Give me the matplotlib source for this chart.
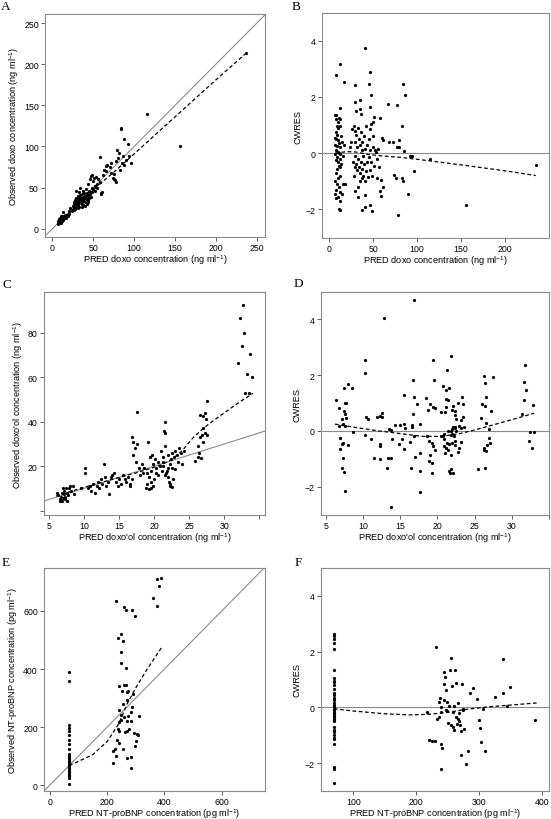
import matplotlib
matplotlib.use("Agg")
import matplotlib.pyplot as plt
import numpy as np

plt.rcParams['font.family'] = ['Liberation Sans', 'DejaVu Sans']
plt.rcParams['mathtext.default'] = 'regular'

# ---------------- data ----------------
# Panel A: observed vs PRED doxo
pred_a = [6.5, 7, 7.5, 8, 8, 8.5, 9, 9, 9.5, 10, 10, 10.5, 11, 11, 11.5, 12, 12, 12, 12.5, 13, 13, 14, 14, 15, 15, 16, 17, 18, 19, 20, 10, 11, 9, 8,
          24, 25, 26, 27, 27, 28, 28, 29, 29, 30, 30, 31, 31, 32, 32, 33, 33, 34, 34, 35, 35, 36, 36, 37, 37, 38, 38, 39, 39, 40, 40, 41, 41, 42, 42,
          43, 43, 44, 44, 45, 45, 46, 46, 47, 47, 48, 48, 49, 50, 50, 51, 52, 52, 53, 54, 55, 56, 58, 59, 60, 61, 58,
          33, 36, 38, 40, 42, 44, 31, 28, 26, 29, 34, 22, 20,
          62, 63, 65, 66, 67, 70, 72, 72, 74, 75, 75, 76, 78, 78, 79, 80, 81, 83, 84, 84, 85, 86, 87, 88, 90, 92, 94, 96, 116, 156, 236.5]
obs_a = [7, 9, 6, 8, 10, 7, 9, 11, 8, 10, 12, 9, 11, 14, 13, 10, 12, 16, 20, 14, 11, 13, 15, 14, 17, 15, 13, 17, 16, 18, 16, 7, 13, 12,
         22, 28, 30, 25, 33, 35, 30, 27, 38, 32, 35, 29, 40, 34, 37, 31, 45, 36, 41, 33, 38, 30, 42, 35, 46, 39, 34, 43, 37, 40, 32, 36, 48, 38, 44,
         41, 35, 40, 55, 37, 46, 42, 60, 39, 64, 50, 45, 65, 48, 58, 62, 52, 46, 63, 55, 49, 60, 57, 42, 44, 45, 87,
         27, 26, 29, 28, 30, 33, 25, 24, 23, 46.5, 49, 25, 22,
         65, 72, 76, 70, 77, 75, 80, 68, 62, 67, 60, 59, 57, 82, 95.5, 86, 92, 72, 121, 123, 80, 88, 109, 78, 84, 103, 88, 80, 139.6, 100, 213]
smooth_a_x = [7, 20, 40, 60, 80, 100, 150, 200, 236.5]
smooth_a_y = [7, 18.5, 38, 56, 73, 91, 136, 181, 213]

# Panel B: CWRES vs PRED doxo
pred_b = [41.3, 12.1, 8.3, 16.7, 46.2, 29.2, 45.8, 48, 83.7, 86.7, 29.9, 35.6, 47, 31, 34.8, 36.4, 66.7, 77.3, 12.9,
          50.8, 58.3, 49.6, 8.3, 11, 10.2, 82.9, 79.2, 72.7, 67.8, 60.6, 61.4, 77.3, 80, 84.8, 92.4, 94.3, 96.2,
          73.5, 76.1, 83, 83.7, 89.8, 59.5, 61.4, 58.3, 59.5, 41.3, 37.5, 48.9, 47, 78.4, 11, 12.9, 32.6, 41.3, 17.8,
          114.8, 155.3, 234.8,
          7, 8, 9, 10, 8, 9, 7, 8, 10, 11, 7, 9, 12, 8, 10, 11, 7, 9, 12, 8, 10, 11, 13, 9, 8, 12, 10, 7, 9, 11, 8, 13, 7,
          10, 8, 12, 15, 14, 15, 16, 13, 12, 14, 17, 16, 13,
          26, 28, 29, 30, 30, 31, 31, 32, 32, 33, 33, 34, 34, 35, 35, 36, 36, 37, 37, 38, 38, 39, 39, 40, 40, 41, 41, 42,
          42, 43, 43, 44, 45, 45, 46, 46, 47, 48, 48, 49, 50, 50, 51, 52, 53, 54, 55, 56, 57, 28, 29, 30, 33, 35, 27, 25, 24]
cwres_b = [3.73, 3.15, 2.78, 2.54, 2.88, 2.43, 2.44, 2.07, 2.46, 2.07, 1.81, 1.87, 1.63, 1.51, 1.57, 1.40, 1.74, 1.72, 1.60,
           1.27, 1.24, 1.12, 1.36, 1.24, 1.10, 0.95, 0.47, 0.40, 0.40, 0.52, 0.45, 0.2, 0.2, 0.08, -0.1, -0.12, -0.62,
           -0.78, -0.9, -0.87, -1.0, -1.47, -0.96, -1.2, -1.36, -1.54, -1.9, -2.02, -2.07, -1.85, -2.2, -2.0, -2.02, -1.56, -1.5, -1.1,
           -0.2, -1.86, -0.44,
           1.35, 1.2, 0.95, 0.9, 0.75, 0.65, 0.55, 0.5, 0.45, 0.35, 0.3, 0.25, 0.2, 0.1, 0.05, 0.0, -0.05, -0.15, -0.2, -0.25,
           -0.3, -0.45, -0.5, -0.55, -0.7, -0.8, -0.9, -1.0, -1.1, -1.2, -1.3, -1.4, -1.45,
           -1.55, -1.6, -1.7, -1.45, -0.4, 0.4, -0.1, 1.2, 0.95, 0.6, 0.3, -1.1, -0.05,
           0.85, 0.95, 0.4, 0.8, -0.1, 0.65, -0.4, 0.2, -0.6, 0.9, -0.2, 0.5, -0.5, 0.3, -0.7, 0.75, -0.3, 0.1, -0.9, 0.4,
           -0.55, -0.1, -0.8, 0.6, -0.4, 0.15, -1.0, 0.95, -0.65, 0.3, -0.3, -0.85, 0.5, -0.15, 0.85, -0.6, 0.1, -0.3,
           1.05, -0.8, 0.6, 0.2, -0.45, 0.1, 0.05, -0.9, -0.2, 0.15, -0.5, -0.8, -0.5, -1.35, -1.2, -1.0, -0.3, 0.4, 0.2]
smooth_b_x = [7, 20, 30, 45, 60, 80, 100, 150, 200, 235]
smooth_b_y = [0.0, 0.05, 0.04, -0.05, -0.1, -0.15, -0.22, -0.42, -0.63, -0.8]

# Panel C: observed vs PRED doxo'ol
pred_c = [6.3, 6.5, 6.7, 6.8, 6.9, 7.0, 7.1, 7.2, 7.3, 7.4, 7.5, 7.6, 7.7, 7.8, 8.0, 8.2, 8.4, 8.6, 6.6, 7.0, 7.3, 6.2,
          9.5, 10.1, 10.2, 10.5, 10.8, 11.0, 11.3, 11.5, 11.8, 12.0, 12.2, 12.4, 12.6, 12.8, 13.0, 13.2, 13.4, 13.6, 13.8,
          14.0, 14.2, 14.5, 14.8, 15.0, 15.3, 15.6, 16.0, 16.3, 16.5, 16.8, 16.6, 15.8,
          16.8, 17.0, 17.0, 17.2, 17.4, 17.5, 17.6, 17.8, 18.0, 18.2, 18.4, 18.6, 18.8, 19.0, 19.1, 19.2, 19.3, 19.4, 19.5,
          19.6, 19.7, 19.8, 19.9, 20.0, 20.1, 20.2, 20.3, 20.5, 20.6, 20.8, 19.5, 19.0,
          21.0, 21.1, 21.2, 21.3, 21.4, 21.5, 21.5, 21.6, 21.6, 21.7, 21.8, 21.9, 22.0, 22.0, 22.1, 22.2, 22.2, 22.3, 22.4,
          22.5, 22.6, 22.7, 22.8, 23.0, 23.2, 23.4, 23.6, 23.8, 24.0, 24.2, 21.3, 22.5, 23.0,
          25.8, 26.2, 26.4, 26.5, 26.6, 26.8, 27.0, 27.0, 27.2, 27.4, 27.5, 27.6, 26.9, 27.3, 26.3, 26.7,
          32.0, 32.3, 32.5, 32.7, 32.8, 33.0, 33.2, 33.5, 33.7, 33.9]
obs_c = [7, 5, 6, 8, 4.5, 5.5, 7.5, 9, 6, 10, 8, 4.5, 7, 10, 11, 9, 11, 7.5, 4.5, 10, 5, 8,
         10, 17, 19, 10, 11, 9, 12, 8, 11, 13, 10, 14, 12, 21, 15, 11, 13, 7.5, 15,
         16, 17, 13, 11, 14, 12, 16, 13, 15, 11, 14, 12, 14,
         33, 31, 25, 28, 22, 44.5, 30, 19, 16, 21, 17, 19, 10, 12, 31, 15, 9.5, 24, 13,
         18, 25, 11, 21, 14, 23, 17, 19, 22, 16, 20, 10, 17,
         27, 18, 22, 24, 36, 40, 16, 35, 29, 17, 18, 25, 15, 19, 13, 12, 21, 11, 23,
         26, 10.5, 14, 24, 27, 25, 22, 28, 26, 21, 27, 20, 19, 18.5,
         22.5, 24, 26, 33, 43, 34, 42.5, 37, 44, 41, 49.5, 34, 31, 35, 29, 23.5,
         66.5, 86.5, 74, 92.5, 80, 53, 61.5, 53, 70.5, 60]
smooth_c_x = [6, 10, 14, 18, 21, 22.5, 24, 25.6, 27, 28.4, 30, 32, 34.1]
smooth_c_y = [6.5, 10.5, 14, 17.5, 20.5, 23, 27, 33, 37, 40.4, 44, 48.5, 52.8]

# Panel D: CWRES vs PRED doxo'ol
pred_d = [16.8, 12.8, 10.3, 19.4, 10.2, 16.7, 19.5, 8.0, 7.4, 8.5, 6.3, 15.5, 16.9, 17.3, 18.4, 19.0, 19.4, 19.6, 7.5, 7.7,
          6.7, 7.4, 7.6, 7.7, 7.2, 12.5, 11.9, 12.2, 12.6, 10.4, 10.7, 16.7, 18.7, 17.6, 16.6,
          6.8, 7.3, 7.5, 8.6, 10.2, 11.0, 12.2, 12.3, 11.5, 12.3, 13.3, 13.7, 13.5, 14.3, 15.0, 15.5, 13.7, 13.9,
          6.9, 7.1, 7.3, 8.0, 6.9, 7.3, 7.1, 7.4, 7.6, 13.2, 13.7, 17.6, 14.8, 15.5, 16.4, 17.6, 17.0, 17.6,
          18.6, 18.8, 19.2, 19.4, 19.6, 18.8, 19.2, 19.3, 19.0, 15.2, 15.6, 16.3, 16.8, 16.6,
          21.8, 21.3, 20.8, 21.2, 21.5, 21.1, 21.4, 21.2, 21.0, 20.5, 22.8, 23.4, 23.3, 22.1, 21.9, 22.4,
          22.3, 22.5, 23.4, 23.1, 22.4, 21.9, 22.1, 21.8, 22.3, 22.5, 22.9, 23.2, 23.6,
          21.4, 20.9, 20.7, 20.5, 21.8, 22.0, 22.2,
          20.9, 21.3, 21.6, 22.0, 21.2, 21.4, 21.0, 21.8, 20.9, 22.3, 22.4, 22.9, 23.1, 22.8,
          21.8, 21.5, 21.7, 22.1,
          26.3, 26.4, 26.5, 26.0, 25.8, 27.4, 27.2, 26.4, 26.9, 26.9, 26.6, 26.2, 26.5, 25.5, 26.2, 26.4, 27.0, 26.5,
          31.8, 31.6, 31.9, 31.7, 32.9, 31.4, 32.4, 33.0, 32.3, 32.7]
cwres_d = [4.68, 4.03, 2.53, 2.53, 2.09, 1.83, 1.83, 1.67, 1.52, 1.53, 1.1, 1.28, 1.23, 0.98, 1.17, 0.96, 0.84, 0.83, 1.0, 1.0,
           0.81, 0.72, 0.6, 0.45, 0.42, 0.65, 0.5, 0.52, 0.5, 0.48, 0.43, 0.62, 0.74, 0.24, 0.2,
           0.19, 0.24, 0.19, -0.06, -0.14, -0.3, -0.48, -0.54, -0.99, -1.02, -0.99, -0.99, 0.08, 0.2, 0.2, 0.24, 0.03, -0.28,
           -0.26, -0.47, -0.44, -0.5, -0.65, -0.99, -1.33, -1.47, -2.17, -1.33, -2.72, -2.21, -0.47, -0.67, -1.33, -1.45, -0.95, -0.78,
           -0.2, -0.35, -0.42, -0.55, -0.7, -1.1, -1.15, -1.5, -0.85, -0.3, 0.1, -0.4, -0.2, 0.15,
           2.69, 2.17, 1.6, 1.48, 1.53, 1.13, 1.11, 0.87, 0.68, 0.66, 1.0, 0.97, 1.2, 0.9, 0.76, 0.72,
           0.55, 0.42, 0.5, 0.38, 0.1, 0.05, 0.12, 0.0, 0.15, -0.02, 0.18, 0.1, 0.15,
           -0.02, -0.1, -0.2, -0.18, -0.15, -0.12, -0.2,
           -0.3, -0.45, -0.48, -0.42, -0.6, -0.7, -0.8, -0.85, -0.55, -0.35, -0.5, -0.62, -0.4, -0.75,
           -1.37, -1.45, -1.5, -1.52,
           1.95, 1.72, 1.2, 0.95, 0.45, 1.92, 0.7, 0.9, 0.05, -0.25, -0.5, -0.6, -0.72, -1.38, -0.7, -1.33, -0.45, 0.28,
           2.35, 1.76, 1.46, 1.1, 0.93, 0.6, -0.04, -0.06, -0.38, -0.62]
smooth_d_x = [6.2, 9, 12, 15, 18, 20.5, 23, 25, 28, 30, 33]
smooth_d_y = [0.24, 0.12, 0.0, -0.1, -0.2, -0.2, -0.1, 0.03, 0.25, 0.4, 0.63]

# Panel E: observed vs PRED NT-proBNP
strip_e = [5, 25, 30, 35, 40, 45, 50, 55, 60, 65, 70, 75, 80, 85, 90, 95, 100, 108, 124, 143, 155, 172, 186, 197, 206, 358, 390]
pred_e = [68] * len(strip_e) + [
    373, 388, 382, 359, 373, 230, 259, 266, 288, 299, 239, 247, 256, 247, 247, 266, 241, 259, 265, 268, 253, 274,
    291, 241, 254, 268, 247, 241, 239, 240, 250, 259, 274, 282, 286, 283, 268, 277, 262, 271, 311, 303, 309, 294,
    301, 297, 242, 233, 227, 221, 230, 221, 254, 268, 283, 282]
obs_e = strip_e + [
    711, 715, 686, 646, 617, 634, 614, 605, 605, 582, 507, 520, 496, 457, 422, 405, 342, 344, 346, 321, 323, 323,
    313, 258, 278, 292, 224, 216, 195, 186, 241, 235, 239, 252, 270, 221, 220, 195, 184, 186, 237, 178, 174, 180,
    151, 135, 147, 155, 124, 117, 101, 78, 124, 92, 98, 60]
smooth_e_x = [68, 100, 150, 200, 240, 270, 300, 340, 393]
smooth_e_y = [68, 82, 105, 150, 210, 280, 335, 400, 478]

# Panel F: CWRES vs PRED NT-proBNP
strip_f = [2.65, 2.55, 2.45, 2.3, 2.1, 1.35, 1.05, 0.95, 0.9, 0.8, 0.65, 0.5, 0.45, 0.35, 0.25, 0.15, 0.1, 0.05, 0.0,
           -0.05, -0.1, -0.15, -0.2, -0.25, -0.3, -0.35, -0.4, -0.45, -0.5, -0.7, -0.8, -0.85, -0.9, -1.0, -1.1,
           -1.15, -1.3, -2.15, -2.2, -2.7]
pred_f = [69] * len(strip_f) + [
    217, 231, 221, 225, 230, 233, 236, 238, 240, 239, 237, 240, 241, 240, 244, 246, 245, 244, 247, 248, 249, 250,
    251, 252, 254, 255, 256, 257, 258, 259, 260, 261, 262, 263, 264, 265, 266, 267, 268, 269, 270, 271, 272, 273,
    274, 275, 276, 279, 283, 286, 290, 297, 300, 301, 303, 307, 309, 325, 338, 339, 345, 350, 390]
cwres_f = strip_f + [
    -0.18, 2.15, -1.17, -1.2, -1.2, -0.4, 0.2, 0.35, 0.02, -0.15, -0.35, -1.3, -1.45, -2.2, 1.28, 1.1, 0.85, 0.25,
    -0.1, 0.62, -0.12, 0.2, -0.55, 0.05, 1.35, 1.78, -0.62, 0.75, -0.15, -0.7, -0.82, 0.05, 1.35, 0.88, -0.35, -0.6,
    0.15, -0.4, -0.2, -0.5, -0.65, -0.85, -1.7, 0.85, -0.1, -0.05, -0.78, -2.03, -1.58, 0.5, 0.7, 0.3, -0.45, -0.75,
    -1.25, -0.05, -1.55, 0.38, 0.53, 1.75, 0.05, 0.73, -0.45]
smooth_f_x = [69, 100, 150, 190, 220, 250, 280, 320, 360, 392]
smooth_f_y = [-0.05, -0.13, -0.23, -0.27, -0.25, -0.18, -0.07, 0.03, 0.1, 0.16]

# ---------------- figure ----------------
W, H = 551, 820
fig = plt.figure(figsize=(W / 100, H / 100), dpi=100)

GREY = '#8a8a8a'


def make_axes(l, t, r, b):
    ax = fig.add_axes([l / W, 1 - b / H, (r - l) / W, (b - t) / H])
    for s in ax.spines.values():
        s.set_color(GREY)
        s.set_linewidth(0.8)
    ax.tick_params(length=3, width=0.6, color='#444444', labelsize=6.3, pad=1.5)
    return ax


def panel(ax, x, y, sx, sy, ref, xlabel, ylabel):
    if ref == 'identity':
        ax.axline((0, 0), slope=1, color=GREY, lw=0.8, zorder=1)
    else:
        ax.axhline(0, color=GREY, lw=0.8, zorder=1)
    ax.plot(x, y, 'o', color='black', ms=2.3, mew=0, zorder=3)
    ax.plot(sx, sy, color='black', lw=0.9, dashes=(3, 2), zorder=2)
    ax.set_xlabel(xlabel, fontsize=6.6, labelpad=0)
    ax.set_ylabel(ylabel, fontsize=6.6, labelpad=2)


doxo_x = 'PRED doxo concentration (ng ml$^{-1}$)'
ol_x = "PRED doxo'ol concentration (ng ml$^{-1}$)"
bnp_x = 'PRED NT-proBNP concentration (pg ml$^{-1}$)'

axA = make_axes(45, 15, 265, 238)
panel(axA, pred_a, obs_a, smooth_a_x, smooth_a_y, 'identity', doxo_x, 'Observed doxo concentration (ng ml$^{-1}$)')
axA.set_xlim(-9, 260)
axA.set_ylim(-10, 261)
axA.set_xticks([0, 50, 100, 150, 200, 250])
axA.set_yticks([0, 50, 100, 150, 200, 250])

axB = make_axes(322, 14, 549, 239)
panel(axB, pred_b, cwres_b, smooth_b_x, smooth_b_y, 'zero', doxo_x, 'CWRES')
axB.set_xlim(-8, 250)
axB.set_ylim(-3.02, 4.98)
axB.set_xticks([0, 50, 100, 150, 200])
axB.set_yticks([-2, 0, 2, 4])

axC = make_axes(44, 293, 265, 516)
panel(axC, pred_c, obs_c, smooth_c_x, smooth_c_y, 'identity', ol_x, "Observed doxo'ol concentration (ng ml$^{-1}$)")
axC.set_xlim(4.29, 35.8)
axC.set_ylim(-2, 98.4)
axC.set_xticks([5, 10, 15, 20, 25, 30, 35])
axC.set_xticklabels(['5', '10', '15', '20', '25', '30', ''])
axC.set_yticks([0, 20, 40, 60, 80])
axC.set_yticklabels(['', '20', '40', '60', '80'])

axD = make_axes(321, 293, 549, 516)
panel(axD, pred_d, cwres_d, smooth_d_x, smooth_d_y, 'zero', ol_x, 'CWRES')
axD.set_xlim(4.33, 35.0)
axD.set_ylim(-3.02, 4.98)
axD.set_xticks([5, 10, 15, 20, 25, 30, 35])
axD.set_xticklabels(['5', '10', '15', '20', '25', '30', ''])
axD.set_yticks([-2, 0, 2, 4])

axE = make_axes(44, 569, 265, 792)
panel(axE, pred_e, obs_e, smooth_e_x, smooth_e_y, 'identity', bnp_x, 'Observed NT-proBNP concentration (pg ml$^{-1}$)')
axE.set_xlim(-20, 751)
axE.set_ylim(-20, 748)
axE.set_xticks([0, 200, 400, 600])
axE.set_yticks([0, 200, 400, 600])

axF = make_axes(321, 569, 549, 792)
panel(axF, pred_f, cwres_f, smooth_f_x, smooth_f_y, 'zero', bnp_x, 'CWRES')
axF.set_xlim(48.5, 411.7)
axF.set_ylim(-3, 5)
axF.set_xticks([100, 200, 300, 400])
axF.set_yticks([-2, 0, 2, 4])

letters = [('A', 6, 7), ('B', 296, 7), ('C', 7, 285), ('D', 298, 284), ('E', 6, 563), ('F', 298, 563)]
for txt, px, py in letters:
    fig.text(px / W, 1 - py / H, txt, family=['Liberation Serif', 'DejaVu Serif'],
             fontsize=9.5, ha='center', va='center')

fig.savefig('out.png', dpi=100)
